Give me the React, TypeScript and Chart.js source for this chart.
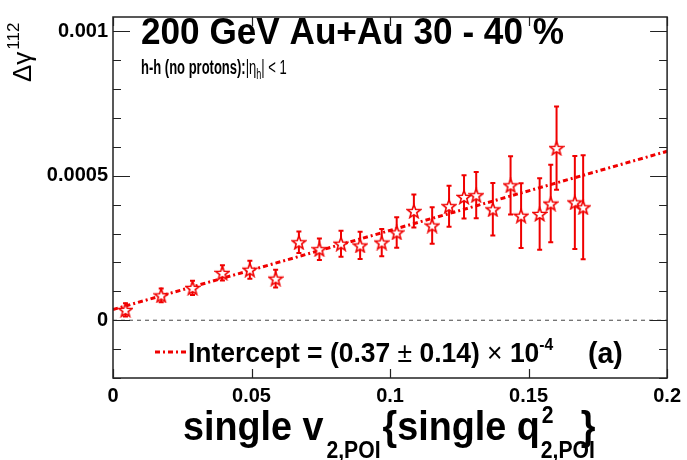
import React, { useEffect, useRef } from 'react';
import { Chart, registerables } from 'chart.js';
Chart.register(...registerables);

// ---- data ----
const xValues = [0.0045, 0.0174, 0.0287, 0.0395, 0.0494, 0.0587, 0.0671, 0.0745, 0.0823, 0.0892, 0.097, 0.1024, 0.1086, 0.1152, 0.1213, 0.1267, 0.1311, 0.1371, 0.1435, 0.1473, 0.154, 0.158, 0.1601, 0.1667, 0.1697];
const yValues = [0.0000357, 0.000086, 0.000112, 0.000164, 0.000175, 0.000144, 0.00027, 0.000246, 0.000265, 0.000259, 0.000269, 0.000304, 0.000378, 0.000328, 0.000395, 0.000427, 0.000433, 0.000384, 0.000467, 0.000362, 0.000368, 0.000404, 0.000596, 0.000408, 0.000391];
const yErrors = [2.3e-5, 2.4e-5, 2.5e-5, 2.6e-5, 3.1e-5, 3.1e-5, 3.7e-5, 3.7e-5, 4.5e-5, 4.7e-5, 4.7e-5, 5.3e-5, 5.7e-5, 6.3e-5, 7.1e-5, 7.5e-5, 8.0e-5, 9.1e-5, 1.01e-4, 1.12e-4, 1.24e-4, 1.34e-4, 1.44e-4, 1.61e-4, 1.8e-4];
const fitX = [0, 0.2];
const fitY = [0.000037, 0.000585];
const zeroX = [0, 0.2];
const zeroY = [0, 0];
const xTickValues = [0, 0.05, 0.1, 0.15, 0.2];
const xTickLabels = ['0', '0.05', '0.1', '0.15', '0.2'];
const yTickValues = [0, 0.0005, 0.001];
const yTickLabels = ['0', '0.0005', '0.001'];
const yMinorStep = 0.0001;

const RED = 'rgb(240,0,0)';
const FONT = "'Liberation Sans', Arial, Helvetica, sans-serif";

function makeStar(size: number) {
  const c = document.createElement('canvas');
  c.width = size;
  c.height = size;
  const g = c.getContext('2d')!;
  const cx = size / 2, cy = size / 2 + 0.7;
  const R = size / 2 - 1;
  const r = R * 0.42;
  g.beginPath();
  for (let i = 0; i < 10; i++) {
    const a = -Math.PI / 2 + (i * Math.PI) / 5;
    const rad = i % 2 === 0 ? R : r;
    const px = cx + rad * Math.cos(a);
    const py = cy + rad * Math.sin(a);
    if (i === 0) g.moveTo(px, py); else g.lineTo(px, py);
  }
  g.closePath();
  g.fillStyle = '#fff';
  g.fill();
  g.strokeStyle = RED;
  g.lineWidth = 1.6;
  g.lineJoin = 'miter';
  g.stroke();
  return c;
}

type Run = { t: string; size: number; bold?: boolean; dy?: number; dx?: number };

// draws runs of text, horizontally scaled by sx; returns end x (screen)
function drawRuns(ctx: CanvasRenderingContext2D, runs: Run[], x: number, y: number, sx = 1) {
  let cx = x;
  for (const r of runs) {
    ctx.font = `${r.bold === false ? '' : 'bold '}${r.size}px ${FONT}`;
    ctx.save();
    ctx.translate(cx + (r.dx || 0), y + (r.dy || 0));
    ctx.scale(sx, 1);
    ctx.fillText(r.t, 0, 0);
    ctx.restore();
    cx += (r.dx || 0) + ctx.measureText(r.t).width * sx;
  }
  return cx;
}

const rootPlugin = {
  id: 'rootStyle',
  beforeDatasetsDraw(chart: any) {
    const { ctx } = chart;
    const x = chart.scales.x, y = chart.scales.y;
    ctx.save();
    ctx.strokeStyle = RED;
    ctx.lineWidth = 2;
    xValues.forEach((xv, i) => {
      const px = x.getPixelForValue(xv);
      const top = y.getPixelForValue(yValues[i] + yErrors[i]);
      const bot = y.getPixelForValue(yValues[i] - yErrors[i]);
      ctx.beginPath();
      ctx.moveTo(px, top); ctx.lineTo(px, bot);
      ctx.moveTo(px - 2.5, top); ctx.lineTo(px + 2.5, top);
      ctx.moveTo(px - 2.5, bot); ctx.lineTo(px + 2.5, bot);
      ctx.stroke();
    });
    ctx.restore();
  },
  afterDraw(chart: any) {
    const { ctx, chartArea: a } = chart;
    const x = chart.scales.x, y = chart.scales.y;
    ctx.save();
    // frame
    ctx.strokeStyle = '#222';
    ctx.lineWidth = 1.5;
    ctx.strokeRect(a.left, a.top, a.right - a.left, a.bottom - a.top);
    ctx.lineWidth = 1.2;
    // y ticks
    for (let v = y.min; v <= 0.001 + 1e-9; v += yMinorStep) {
      const vv = Math.round(v * 1e5) / 1e5;
      const py = Math.round(y.getPixelForValue(vv)) + 0.5;
      const major = yTickValues.some((t) => Math.abs(t - vv) < 1e-9);
      const len = major ? 17 : 8;
      ctx.beginPath();
      ctx.moveTo(a.left, py); ctx.lineTo(a.left + len, py);
      ctx.moveTo(a.right, py); ctx.lineTo(a.right - len, py);
      ctx.stroke();
    }
    // x ticks
    xTickValues.forEach((v) => {
      const px = Math.round(x.getPixelForValue(v)) + 0.5;
      ctx.beginPath();
      ctx.moveTo(px, a.bottom); ctx.lineTo(px, a.bottom - 9);
      ctx.moveTo(px, a.top); ctx.lineTo(px, a.top + 9);
      ctx.stroke();
    });

    ctx.fillStyle = '#000';
    ctx.textBaseline = 'alphabetic';
    ctx.textAlign = 'left';
    // title
    drawRuns(ctx, [{ t: '200 GeV Au+Au 30 - 40 %', size: 37 }], 141, 44, 0.95);
    // subtitle
    drawRuns(ctx, [
      { t: 'h-h (no protons):', size: 20 },
      { t: '|η', size: 20, bold: false },
      { t: 'h', size: 14, bold: false, dy: 5 },
      { t: '| < 1', size: 20, bold: false },
    ], 141, 74, 0.65);

    // legend sample
    ctx.save();
    ctx.strokeStyle = RED;
    ctx.lineWidth = 3;
    ctx.setLineDash([5, 3, 2, 3]);
    ctx.beginPath();
    ctx.moveTo(155, 352); ctx.lineTo(186, 352);
    ctx.stroke();
    ctx.restore();
    drawRuns(ctx, [
      { t: 'Intercept = (0.37 ', size: 27 },
      { t: '±', size: 27, bold: false },
      { t: ' 0.14) ', size: 27 },
      { t: '×', size: 27, bold: false },
      { t: ' 10', size: 27 },
      { t: '-4', size: 16, dy: -12 },
    ], 188, 362, 0.98);
    drawRuns(ctx, [{ t: '(a)', size: 30 }], 588, 363, 0.95);

    // x axis title
    const sx = 0.92;
    const endV = drawRuns(ctx, [{ t: 'single v', size: 41 }], 183, 440, sx);
    const endSub = drawRuns(ctx, [{ t: '2,POI', size: 23 }], endV + 3, 458, sx);
    const endQ = drawRuns(ctx, [{ t: '{single q', size: 41 }], endSub + 2, 440, sx);
    drawRuns(ctx, [{ t: '2', size: 23 }], endQ + 2, 423, sx);
    const endSub2 = drawRuns(ctx, [{ t: '2,POI', size: 23 }], endQ + 1, 458, sx);
    drawRuns(ctx, [{ t: '}', size: 41 }], endSub2 - 14, 440, sx);

    // y axis title (rotated)
    ctx.save();
    ctx.translate(31, 82);
    ctx.rotate(-Math.PI / 2);
    const endG = drawRuns(ctx, [{ t: 'Δγ', size: 26, bold: false }], 0, 0);
    drawRuns(ctx, [{ t: '112', size: 17, bold: false }], endG + 2, -12);
    ctx.restore();

    ctx.restore();
  },
};

export default function App() {
  const ref = useRef<HTMLCanvasElement | null>(null);
  useEffect(() => {
    const canvas = ref.current!;
    const star = makeStar(16);
    const chart = new Chart(canvas, {
      type: 'scatter',
      data: {
        datasets: [
          {
            label: 'data',
            data: xValues.map((v, i) => ({ x: v, y: yValues[i] })),
            pointStyle: star as any,
            pointRadius: 8,
            showLine: false,
          },
          {
            label: 'fit',
            data: fitX.map((v, i) => ({ x: v, y: fitY[i] })),
            showLine: true,
            borderColor: RED,
            borderWidth: 3,
            borderDash: [5, 3, 2, 3],
            pointRadius: 0,
          },
          {
            label: 'zero',
            data: zeroX.map((v, i) => ({ x: v, y: zeroY[i] })),
            showLine: true,
            borderColor: '#444',
            borderWidth: 1,
            borderDash: [4, 4],
            pointRadius: 0,
          },
        ],
      },
      options: {
        animation: false,
        responsive: false,
        layout: { padding: { top: 13, right: 16, left: 0, bottom: 0 } },
        plugins: { legend: { display: false }, tooltip: { enabled: false } },
        scales: {
          x: {
            type: 'linear',
            min: 0,
            max: 0.2,
            grid: { display: false, drawTicks: false },
            border: { display: false },
            afterBuildTicks: (s: any) => { s.ticks = xTickValues.map((v) => ({ value: v })); },
            afterFit: (s: any) => { s.height = 82; },
            ticks: {
              autoSkip: false,
              maxRotation: 0,
              padding: 6,
              color: '#000',
              font: { family: FONT, size: 20, weight: 'bold' },
              callback: (_v: any, i: number) => xTickLabels[i],
            },
          },
          y: {
            type: 'linear',
            min: -0.0002,
            max: 0.00105,
            grid: { display: false, drawTicks: false },
            border: { display: false },
            afterBuildTicks: (s: any) => { s.ticks = yTickValues.map((v) => ({ value: v })); },
            afterFit: (s: any) => { s.width = 113; },
            ticks: {
              padding: 5,
              color: '#000',
              font: { family: FONT, size: 20, weight: 'bold' },
              callback: (_v: any, i: number) => yTickLabels[i],
            },
          },
        },
      },
      plugins: [rootPlugin],
    } as any);
    return () => chart.destroy();
  }, []);
  return (
    <div style={{ position: 'absolute', left: 0, top: 0, width: 687, height: 460, background: '#fff' }}>
      <canvas ref={ref} width={687} height={460} style={{ width: 687, height: 460, display: 'block' }} />
    </div>
  );
}
